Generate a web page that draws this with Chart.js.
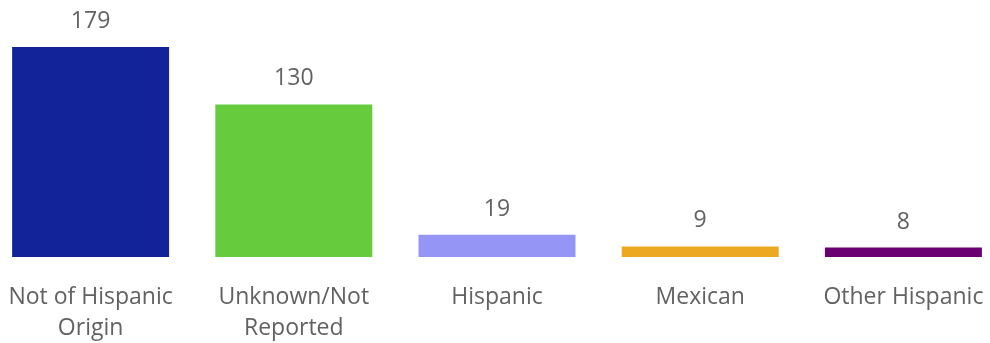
<!DOCTYPE html>
<html>
<head>
<meta charset="utf-8">
<script src="https://cdn.jsdelivr.net/npm/chart.js"></script>
<style>
  html, body { margin:0; padding:0; background:#fff; overflow:hidden; }
  /* a touch wider than the window so the five columns spread edge to edge */
  #wrap { position:absolute; left:-11px; top:0; width:1016px; height:343px; }
</style>
</head>
<body>
<div id="wrap"><canvas id="eth"></canvas></div>
<script>
/* ---------- data */
const CATEGORIES = [['Not of Hispanic', 'Origin'], ['Unknown/Not', 'Reported'], 'Hispanic', 'Mexican', 'Other Hispanic'];
const COUNTS     = [179, 130, 19, 9, 8];
const COLORS     = ['#12239A', '#66CC3D', '#9595F5', '#EDA821', '#6B0073'];

const TEXT = '#626262';
const FONT = '"Open Sans", "Noto Sans", sans-serif';

/* ---------- value labels above each bar */
const valueLabels = {
  id: 'valueLabels',
  afterDatasetsDraw(chart) {
    const { ctx } = chart;
    const meta = chart.getDatasetMeta(0);
    ctx.save();
    ctx.fillStyle = TEXT;
    ctx.font = `23px ${FONT}`;
    ctx.textAlign = 'center';
    ctx.textBaseline = 'alphabetic';
    meta.data.forEach((bar, i) => {
      ctx.fillText(COUNTS[i], bar.x, bar.y - 19);
    });
    ctx.restore();
  }
};

new Chart(document.getElementById('eth'), {
  type: 'bar',
  data: {
    labels: CATEGORIES,
    datasets: [{
      data: COUNTS,
      backgroundColor: COLORS,
      borderWidth: 0,
      barPercentage: 0.7725,
      categoryPercentage: 1
    }]
  },
  options: {
    responsive: true,
    maintainAspectRatio: false,
    animation: false,
    layout: { padding: { top: 47, left: 0, right: 0, bottom: 0 } },
    plugins: { legend: { display: false }, tooltip: { enabled: false } },
    scales: {
      x: {
        grid: { display: false, drawTicks: false },
        border: { display: false },
        ticks: { color: TEXT, font: { family: FONT, size: 23, lineHeight: 1.36 }, padding: 25, maxRotation: 0, autoSkip: false },
        afterFit: s => {
          s.height = 86;
          // labels fit inside their columns, no side gutters needed
          s.paddingLeft = 0;
          s.paddingRight = 0;
        }
      },
      y: {
        display: false,
        min: 0,
        max: 179
      }
    }
  },
  plugins: [valueLabels]
});
</script>
</body>
</html>
